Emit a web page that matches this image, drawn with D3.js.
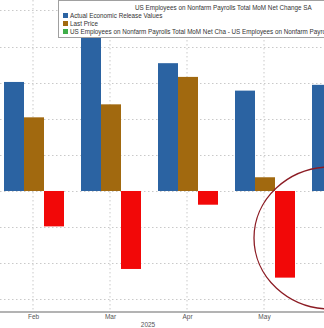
<!DOCTYPE html>
<html><head><meta charset="utf-8">
<script src="https://cdn.jsdelivr.net/npm/d3@7"></script>
<style>html,body{margin:0;padding:0;background:#fff;}svg{display:block;}</style>
</head><body>
<script>
const months = ["Feb","Mar","Apr","May","Jun"];
const tickMonths = ["Feb","Mar","Apr","May"];
const actual = [151, 228, 177, 139, 147];
const lastPrice = [102, 120, 158, 19, null];
const diff = [-49, -108, -19, -120, null];
const yTicks = [-150,-100,-50,0,50,100,150,200,250];
const seriesNames = ["Actual Economic Release Values","Last Price","US Employees on Nonfarm Payrolls Total MoM Net Cha - US Employees on Nonfarm Payrolls Total MoM Net Change SA"];
const seriesColors = ["#2b63a2","#a1690f","#3fae49"];
const diffColor = "#f20808";
const title = "US Employees on Nonfarm Payrolls Total MoM Net Change SA";
const yearLabel = "2025";

const W = 324, H = 328;
const svg = d3.select("body").append("svg").attr("width", W).attr("height", H);

const x = d3.scaleBand().domain(months).range([-5.5, -5.5 + 77*months.length]).padding(0);
const keys = ["actual","last","diff"];
const xi = d3.scaleBand().domain(keys).range([9.5, 69.5]).padding(0);
const y = d3.scaleLinear().domain([-167.6, 264.5]).range([312, 0]);

const grid = "#c9c9c9";
// horizontal grid
svg.append("g").selectAll("line").data(yTicks).join("line")
  .attr("x1", 0).attr("x2", W)
  .attr("y1", d => Math.round(y(d)) + 0.5).attr("y2", d => Math.round(y(d)) + 0.5)
  .attr("stroke", grid).attr("stroke-width", 1).attr("stroke-dasharray", "1.5,2.5");
// vertical grid
svg.append("g").selectAll("line").data(tickMonths).join("line")
  .attr("x1", d => x(d) + x.bandwidth()/2).attr("x2", d => x(d) + x.bandwidth()/2)
  .attr("y1", 0).attr("y2", 312)
  .attr("stroke", grid).attr("stroke-width", 1).attr("stroke-dasharray", "1.5,2.5");

const rows = months.map((m, i) => ({m, actual: actual[i], last: lastPrice[i], diff: diff[i]}));
const bars = [];
rows.forEach(r => {
  if (r.actual != null) bars.push({m: r.m, k: "actual", v: r.actual, c: seriesColors[0]});
  if (r.last != null) bars.push({m: r.m, k: "last", v: r.last, c: seriesColors[1]});
  if (r.diff != null) bars.push({m: r.m, k: "diff", v: r.diff, c: diffColor});
});
svg.append("g").selectAll("rect").data(bars).join("rect")
  .attr("x", d => x(d.m) + xi(d.k))
  .attr("width", xi.bandwidth() - (d => 0)())
  .attr("y", d => Math.min(y(d.v), y(0)))
  .attr("height", d => Math.abs(y(d.v) - y(0)))
  .attr("fill", d => d.c);

// x axis
const xAxis = d3.axisBottom(d3.scalePoint().domain(tickMonths)
    .range([x("Feb") + 38.5, x("May") + 38.5])).tickSize(0).tickPadding(2);
const ax = svg.append("g").attr("transform", "translate(0,312)").call(xAxis);
ax.select(".domain").remove();
ax.selectAll("text").attr("font-family", "Liberation Sans, Arial, sans-serif").attr("font-size", 6.5).attr("fill", "#555");
svg.append("line").attr("x1", 0).attr("x2", W).attr("y1", 312).attr("y2", 312)
  .attr("stroke", "#9a9a9a").attr("stroke-width", 1.5);
svg.append("text").attr("x", 148).attr("y", 327).attr("text-anchor", "middle")
  .attr("font-family", "Liberation Sans, Arial, sans-serif").attr("font-size", 6.5).attr("fill", "#555").text(yearLabel);

// annotation ellipse
svg.append("ellipse").attr("cx", 331).attr("cy", 238).attr("rx", 77).attr("ry", 71)
  .attr("fill", "none").attr("stroke", "#8c1c24").attr("stroke-width", 1.3);

// legend
const lg = svg.append("g");
lg.append("rect").attr("x", 58.5).attr("y", 0.5).attr("width", 300).attr("height", 37)
  .attr("fill", "#fff").attr("stroke", "#a0a0a0");
lg.append("text").attr("x", 135).attr("y", 9.5)
  .attr("font-family", "Liberation Sans, Arial, sans-serif").attr("font-size", 6.3).attr("fill", "#333").text(title);
seriesNames.forEach((n, i) => {
  const yy = 13 + i*8;
  lg.append("rect").attr("x", 63).attr("y", yy).attr("width", 5).attr("height", 5).attr("fill", seriesColors[i]);
  lg.append("text").attr("x", 70).attr("y", yy + 5)
    .attr("font-family", "Liberation Sans, Arial, sans-serif").attr("font-size", 6.3).attr("fill", "#333").text(n);
});
</script>
</body></html>
